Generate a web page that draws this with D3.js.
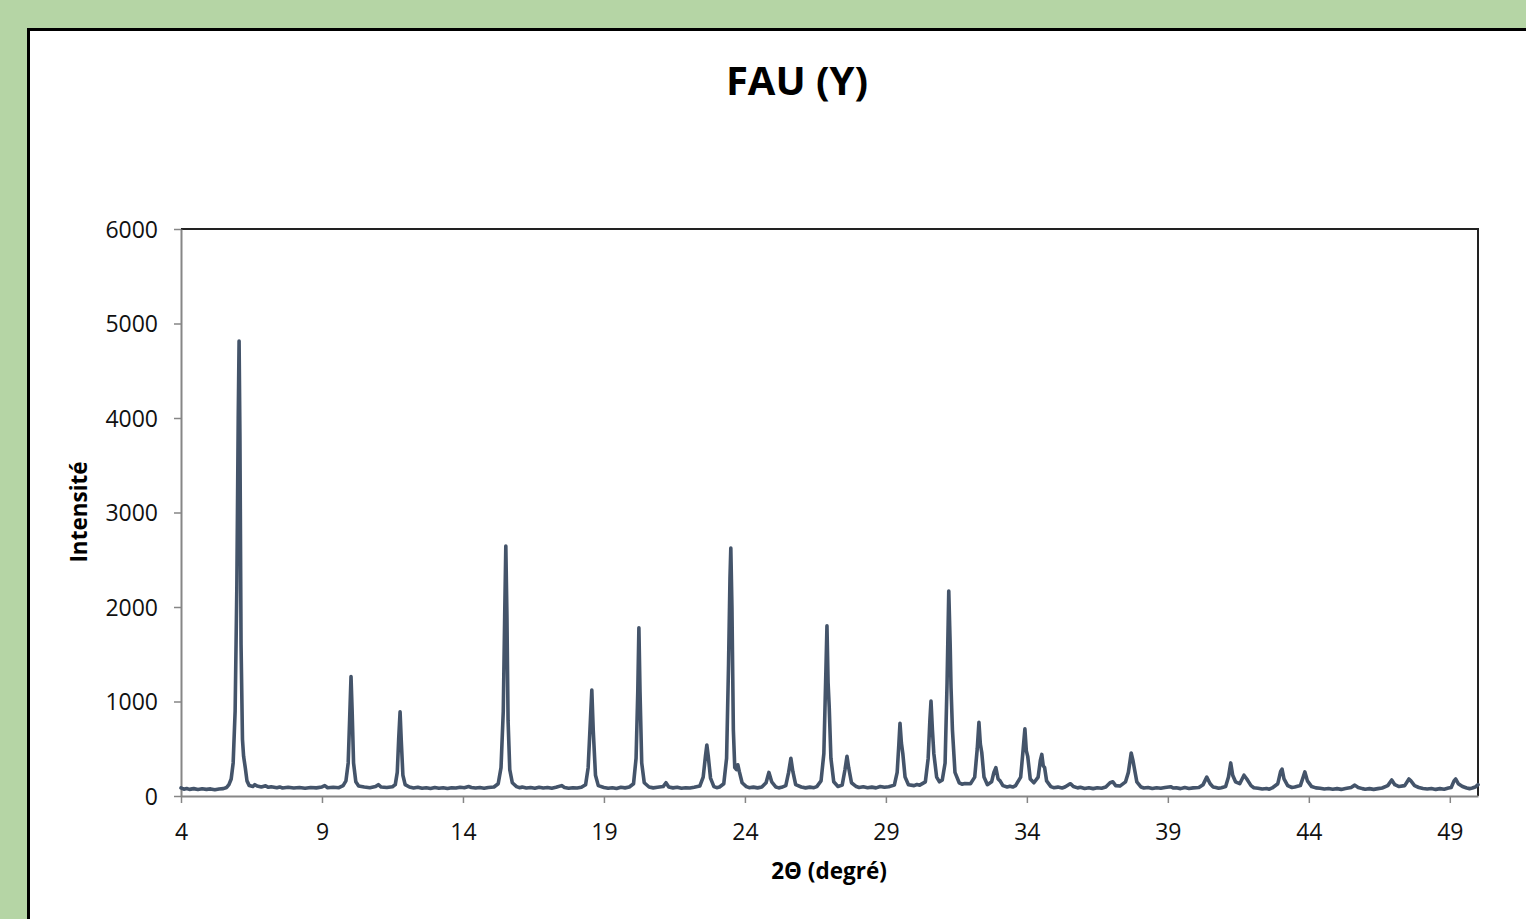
<!DOCTYPE html>
<html>
<head>
<meta charset="utf-8">
<script src="https://cdn.jsdelivr.net/npm/d3@7"></script>
<style>
  html, body { margin: 0; padding: 0; background: #b5d5a5; overflow: hidden; }
  svg { display: block; }
</style>
</head>
<body>
<svg id="chart" width="1526" height="919"></svg>
<script>
// XRD pattern: [2theta, intensity]
var pattern = [
 [4.0,85],[4.1,72],[4.2,80],[4.3,70],[4.45,78],[4.6,68],[4.75,76],[4.9,70],[5.05,75],[5.2,66],[5.35,74],[5.5,78],[5.62,90],[5.7,120],
 [5.78,180],[5.85,350],[5.92,900],[5.98,2200],[6.03,4000],[6.06,4815],[6.09,3800],[6.13,1600],[6.18,600],[6.22,420],[6.28,300],[6.34,160],[6.42,110],
 [6.55,100],[6.62,120],[6.7,105],[6.85,95],[7.0,108],[7.1,92],[7.2,98],[7.4,88],[7.5,96],[7.6,85],[7.8,92],[8.0,84],[8.2,90],[8.4,82],[8.6,90],[8.8,86],[9.0,96],[9.1,110],[9.2,88],[9.4,92],[9.6,88],
 [9.75,110],[9.85,160],[9.93,350],[9.98,800],[10.03,1265],[10.07,900],[10.12,350],[10.2,150],[10.3,105],
 [10.5,95],[10.7,88],[10.9,100],[11.0,120],[11.1,95],[11.3,90],[11.5,98],
 [11.6,120],[11.67,250],[11.72,600],[11.77,890],[11.81,600],[11.87,220],[11.95,120],
 [12.1,95],[12.25,85],[12.4,92],[12.55,82],[12.7,88],[12.85,80],[13.0,90],[13.15,82],[13.3,88],[13.45,80],[13.6,88],[13.75,84],[13.9,92],[14.05,88],[14.2,100],[14.3,90],[14.45,84],[14.6,90],[14.75,82],[14.9,90],[15.1,95],
 [15.25,130],[15.35,300],[15.43,900],[15.48,1900],[15.52,2645],[15.56,1900],[15.6,800],[15.66,280],[15.75,140],
 [15.9,100],[16.0,88],[16.1,94],[16.25,84],[16.4,90],[16.55,82],[16.7,92],[16.85,84],[17.0,90],[17.15,82],[17.3,92],[17.5,110],[17.6,90],[17.75,82],[17.9,88],[18.05,84],[18.2,92],
 [18.35,120],[18.44,300],[18.52,800],[18.57,1120],[18.62,700],[18.7,220],[18.8,110],
 [19.0,90],[19.15,82],[19.3,88],[19.45,80],[19.6,92],[19.75,86],[19.9,95],
 [20.05,130],[20.14,400],[20.2,1100],[20.24,1780],[20.28,1100],[20.34,350],[20.43,140],
 [20.6,95],[20.75,86],[20.9,92],[21.1,100],[21.2,140],[21.3,95],[21.45,86],[21.6,92],[21.75,82],[21.9,88],[22.05,84],[22.2,92],
 [22.4,105],[22.52,200],[22.6,420],[22.65,540],[22.7,420],[22.78,190],[22.9,100],
 [23.0,88],[23.1,95],[23.25,130],[23.35,400],[23.42,1400],[23.47,2300],[23.50,2625],[23.54,2000],[23.59,700],[23.64,300],[23.7,280],[23.75,330],[23.8,260],[23.9,140],
 [24.05,100],[24.15,88],[24.3,94],[24.45,86],[24.6,95],[24.75,140],[24.85,250],[24.95,150],[25.1,95],[25.2,86],[25.3,92],
 [25.45,110],[25.55,250],[25.63,400],[25.7,260],[25.8,120],[26.0,95],[26.15,86],[26.3,94],[26.45,88],
 [26.55,100],[26.7,160],[26.8,450],[26.87,1300],[26.91,1800],[26.95,1200],[26.99,940],[27.05,400],[27.15,150],[27.3,100],
 [27.45,115],[27.55,280],[27.62,420],[27.68,300],[27.78,140],[27.95,100],[28.05,90],[28.2,98],[28.35,88],[28.5,94],[28.65,86],[28.8,100],[28.95,92],[29.1,98],
 [29.3,115],[29.4,250],[29.46,550],[29.5,770],[29.55,560],[29.6,450],[29.68,200],[29.8,120],[30.0,110],[30.1,122],[30.2,115],
 [30.4,150],[30.5,400],[30.56,800],[30.6,1005],[30.65,700],[30.7,450],[30.8,200],[30.9,150],
 [31.0,170],[31.1,350],[31.17,1200],[31.23,2170],[31.28,1600],[31.31,1150],[31.36,700],[31.45,250],[31.6,140],[31.7,125],[31.8,132],
 [32.0,130],[32.15,200],[32.24,500],[32.3,780],[32.35,550],[32.4,460],[32.48,200],[32.6,120],
 [32.75,150],[32.83,250],[32.9,300],[32.98,180],[33.05,160],[33.15,110],[33.3,96],[33.4,104],[33.5,95],[33.6,110],
 [33.78,200],[33.87,500],[33.93,710],[33.98,480],[34.03,420],[34.12,180],[34.25,140],
 [34.4,200],[34.48,380],[34.53,440],[34.58,320],[34.63,300],[34.7,160],[34.85,100],
 [34.95,88],[35.1,94],[35.25,84],[35.35,95],[35.48,120],[35.55,130],[35.65,100],[35.8,86],[35.9,92],[36.05,80],[36.2,88],[36.35,78],[36.5,88],[36.65,82],[36.8,95],
 [36.95,140],[37.05,150],[37.15,110],[37.3,105],[37.5,150],[37.6,250],[37.7,455],[37.76,380],[37.82,280],[37.9,150],
 [38.05,95],[38.15,84],[38.3,90],[38.45,80],[38.6,88],[38.75,82],[38.9,90],[39.1,98],[39.2,84],[39.3,88],[39.45,78],[39.6,90],[39.75,80],[39.9,86],[40.1,90],
 [40.25,120],[40.38,200],[40.5,130],[40.6,96],[40.7,90],[40.8,82],[40.9,88],
 [41.05,100],[41.15,200],[41.23,350],[41.3,220],[41.4,150],[41.55,130],[41.7,220],[41.8,180],[41.95,110],
 [42.05,88],[42.2,82],[42.35,74],[42.5,80],[42.6,72],[42.7,85],[42.9,130],[43.0,260],[43.05,285],[43.12,180],[43.25,110],[43.4,90],[43.5,95],
 [43.7,110],[43.8,200],[43.86,255],[43.95,160],[44.1,100],[44.25,86],[44.4,82],[44.55,74],[44.7,80],[44.85,72],[45.0,78],[45.15,70],[45.3,80],
 [45.5,90],[45.63,115],[45.75,90],[45.9,78],[46.0,72],[46.15,78],[46.3,70],[46.45,78],[46.6,85],
 [46.8,110],[46.94,170],[47.05,120],[47.2,100],[47.4,110],[47.55,180],[47.62,160],[47.75,110],[47.9,90],
 [48.05,80],[48.2,74],[48.35,80],[48.5,70],[48.65,78],[48.8,72],[48.95,84],[49.05,90],[49.15,160],[49.21,180],[49.3,130],[49.45,100],[49.6,84],[49.7,78],[49.8,85],[49.9,95],[50.0,120]
];
var xTicks = [4, 9, 14, 19, 24, 29, 34, 39, 44, 49];
var yTicks = [0, 1000, 2000, 3000, 4000, 5000, 6000];
var chartTitle = "FAU (Y)";
var xTitle = "2\u0398 (degré)";
var yTitle = "Intensité";

var lineColor = "#44546a";
var axisGrey = "#868686";
var font = "'Open Sans', 'DejaVu Sans', sans-serif";

var svg = d3.select("#chart");

// white chart box, runs off the right and bottom edges
svg.append("rect")
  .attr("x", 28.5).attr("y", 29.5)
  .attr("width", 1540).attr("height", 940)
  .attr("fill", "white")
  .attr("stroke", "black")
  .attr("stroke-width", 3);

var plotL = 181, plotR = 1478, plotT = 229, plotB = 796;

var x = d3.scaleLinear().domain([4, 50]).range([plotL, plotR]);
var y = d3.scaleLinear().domain([0, 6000]).range([plotB, plotT]);

// frame top + right
svg.append("path")
  .attr("d", "M" + plotL + "," + plotT + "H" + plotR + "V" + plotB)
  .attr("fill", "none")
  .attr("stroke", "#222")
  .attr("stroke-width", 2);

var xAxis = svg.append("g")
  .attr("transform", "translate(0," + plotB + ")")
  .call(d3.axisBottom(x).tickValues(xTicks).tickSize(7).tickPadding(21).tickSizeOuter(0));
var yAxis = svg.append("g")
  .attr("transform", "translate(" + plotL + ",0)")
  .call(d3.axisLeft(y).tickValues(yTicks).tickFormat(d3.format("d")).tickSize(7).tickPadding(16).tickSizeOuter(0));

[xAxis, yAxis].forEach(function(a){
  a.select(".domain").attr("stroke", axisGrey).attr("stroke-width", 2);
  a.selectAll(".tick line").attr("stroke", axisGrey).attr("stroke-width", 1.5);
  a.selectAll(".tick text")
    .attr("fill", "#111")
    .style("font-family", font)
    .style("font-size", "23px");
});
yAxis.selectAll(".tick text").attr("dy", "0.36em");

var line = d3.line()
  .x(function(d){return x(d[0]);})
  .y(function(d){return y(d[1]);});

svg.append("path")
  .datum(pattern)
  .attr("d", line)
  .attr("fill", "none")
  .attr("stroke", lineColor)
  .attr("stroke-width", 3.6)
  .attr("stroke-linejoin", "round")
  .attr("stroke-linecap", "round");

svg.append("text")
  .attr("x", 797).attr("y", 95)
  .attr("text-anchor", "middle")
  .style("font-family", font)
  .style("font-weight", "bold")
  .style("font-size", "40px")
  .text(chartTitle);

svg.append("text")
  .attr("x", 829).attr("y", 879)
  .attr("text-anchor", "middle")
  .style("font-family", font)
  .style("font-weight", "bold")
  .style("font-size", "22.5px")
  .text(xTitle);

svg.append("text")
  .attr("transform", "translate(87,512) rotate(-90)")
  .attr("text-anchor", "middle")
  .style("font-family", font)
  .style("font-weight", "bold")
  .style("font-size", "22.5px")
  .text(yTitle);
</script>
</body>
</html>
